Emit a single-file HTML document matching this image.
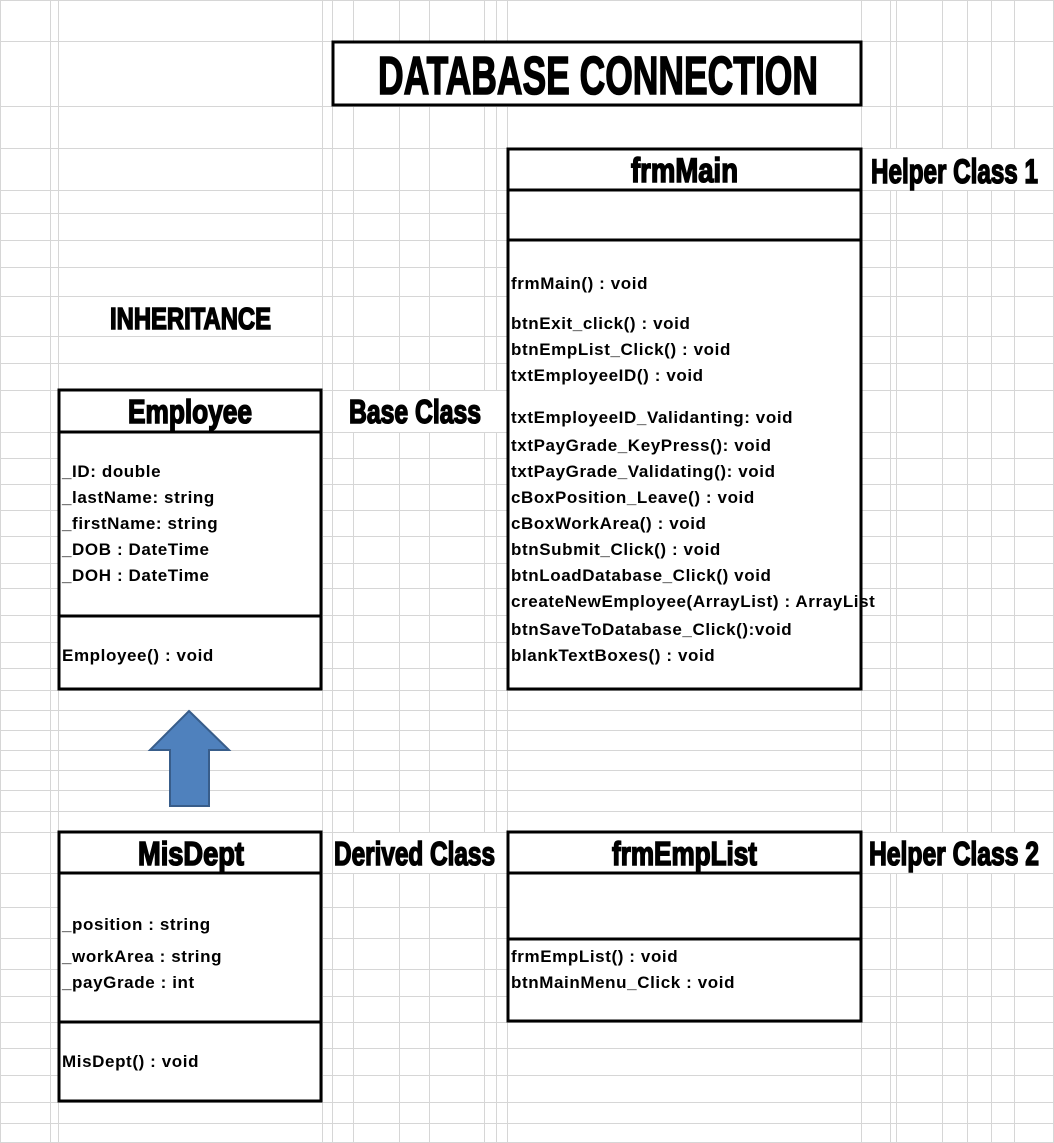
<!DOCTYPE html>
<html><head><meta charset="utf-8"><style>
html,body{margin:0;padding:0;background:#fff;}
svg{display:block;}
.m{font-family:"Liberation Sans",Arial,sans-serif;font-weight:bold;font-size:17px;letter-spacing:0.6px;fill:#000;}
.h{font-family:"Liberation Sans Narrow","Liberation Sans",sans-serif;font-weight:bold;fill:#000;stroke:#000;stroke-width:1.6px;}
</style></head><body>
<svg width="1054" height="1143" viewBox="0 0 1054 1143" xmlns="http://www.w3.org/2000/svg">
<rect width="1054" height="1143" fill="#fff"/>
<g stroke="#d6d6d6" stroke-width="1" shape-rendering="crispEdges">
<path d="M0.5 0V1143M50.5 0V1143M58.5 0V1143M322.5 0V1143M332.5 0V1143M353.5 0V1143M399.5 0V1143M429.5 0V1143M484.5 0V1143M496.5 0V1143M507.5 0V1143M861.5 0V1143M890.5 0V1143M896.5 0V1143M942.5 0V1143M967.5 0V1143M991.5 0V1143M1014.5 0V1143M1053.5 0V1143"/>
<path d="M0 0.5H1054M0 41.5H1054M0 106.5H1054M0 148.5H1054M0 190.5H1054M0 213.5H1054M0 240.5H1054M0 267.5H1054M0 296.5H1054M0 336.5H1054M0 363.5H1054M0 390.5H1054M0 432.5H1054M0 458.5H1054M0 484.5H1054M0 510.5H1054M0 536.5H1054M0 563.5H1054M0 588.5H1054M0 615.5H1054M0 642.5H1054M0 668.5H1054M0 690.5H1054M0 710.5H1054M0 730.5H1054M0 750.5H1054M0 770.5H1054M0 790.5H1054M0 811.5H1054M0 832.5H1054M0 873.5H1054M0 907.5H1054M0 938.5H1054M0 969.5H1054M0 996.5H1054M0 1022.5H1054M0 1048.5H1054M0 1075.5H1054M0 1102.5H1054M0 1123.5H1054M0 1142.5H1054"/>
</g>
<g fill="#fff">
<rect x="59" y="297" width="263" height="39"/>
<rect x="333" y="391" width="173" height="41"/>
<rect x="333" y="833" width="173" height="40"/>
<rect x="863" y="149" width="180" height="41"/>
<rect x="863" y="833" width="180" height="40"/>
</g>
<g fill="#fff" stroke="#000" stroke-width="3">
<rect x="333" y="42" width="528" height="63"/>
<rect x="508" y="149" width="353" height="540"/>
<rect x="59" y="390" width="262" height="299"/>
<rect x="59" y="832" width="262" height="269"/>
<rect x="508" y="832" width="353" height="189"/>
</g>
<g stroke="#000" stroke-width="3">
<path d="M508 190H861M508 240H861M59 432H321M59 616H321M59 873H321M59 1022H321M508 873H861M508 939H861"/>
</g>
<path d="M189 711L229 750H209V806H170V750H150Z" fill="#4F81BD" stroke="#385D8A" stroke-width="2"/>
<text class="h" x="378" y="94" font-size="54" textLength="440" lengthAdjust="spacingAndGlyphs">DATABASE CONNECTION</text>
<text class="h" x="631" y="182" font-size="34" textLength="107" lengthAdjust="spacingAndGlyphs">frmMain</text>
<text class="h" x="871" y="183" font-size="34" textLength="167" lengthAdjust="spacingAndGlyphs">Helper Class 1</text>
<text class="h" x="110" y="329" font-size="31" textLength="161" lengthAdjust="spacingAndGlyphs">INHERITANCE</text>
<text class="h" x="128" y="423" font-size="33" textLength="124" lengthAdjust="spacingAndGlyphs">Employee</text>
<text class="h" x="349" y="423" font-size="33" textLength="132" lengthAdjust="spacingAndGlyphs">Base Class</text>
<text class="h" x="138" y="865" font-size="33" textLength="106" lengthAdjust="spacingAndGlyphs">MisDept</text>
<text class="h" x="334" y="865" font-size="33" textLength="161" lengthAdjust="spacingAndGlyphs">Derived Class</text>
<text class="h" x="612" y="865" font-size="33" textLength="145" lengthAdjust="spacingAndGlyphs">frmEmpList</text>
<text class="h" x="869" y="865" font-size="33" textLength="170" lengthAdjust="spacingAndGlyphs">Helper Class 2</text>
<g class="m">
<text x="62" y="477">_ID: double</text>
<text x="62" y="503">_lastName: string</text>
<text x="62" y="529">_firstName: string</text>
<text x="62" y="555">_DOB : DateTime</text>
<text x="62" y="581">_DOH : DateTime</text>
<text x="62" y="661">Employee() : void</text>
<text x="511" y="289">frmMain() : void</text>
<text x="511" y="329">btnExit_click() : void</text>
<text x="511" y="355">btnEmpList_Click() : void</text>
<text x="511" y="381">txtEmployeeID() : void</text>
<text x="511" y="423">txtEmployeeID_Validanting: void</text>
<text x="511" y="451">txtPayGrade_KeyPress(): void</text>
<text x="511" y="477">txtPayGrade_Validating(): void</text>
<text x="511" y="503">cBoxPosition_Leave() : void</text>
<text x="511" y="529">cBoxWorkArea() : void</text>
<text x="511" y="555">btnSubmit_Click() : void</text>
<text x="511" y="581">btnLoadDatabase_Click() void</text>
<text x="511" y="607">createNewEmployee(ArrayList) : ArrayList</text>
<text x="511" y="635">btnSaveToDatabase_Click():void</text>
<text x="511" y="661">blankTextBoxes() : void</text>
<text x="62" y="930">_position : string</text>
<text x="62" y="962">_workArea : string</text>
<text x="62" y="988">_payGrade : int</text>
<text x="62" y="1067">MisDept() : void</text>
<text x="511" y="962">frmEmpList() : void</text>
<text x="511" y="988">btnMainMenu_Click : void</text>
</g>
</svg>
</body></html>
